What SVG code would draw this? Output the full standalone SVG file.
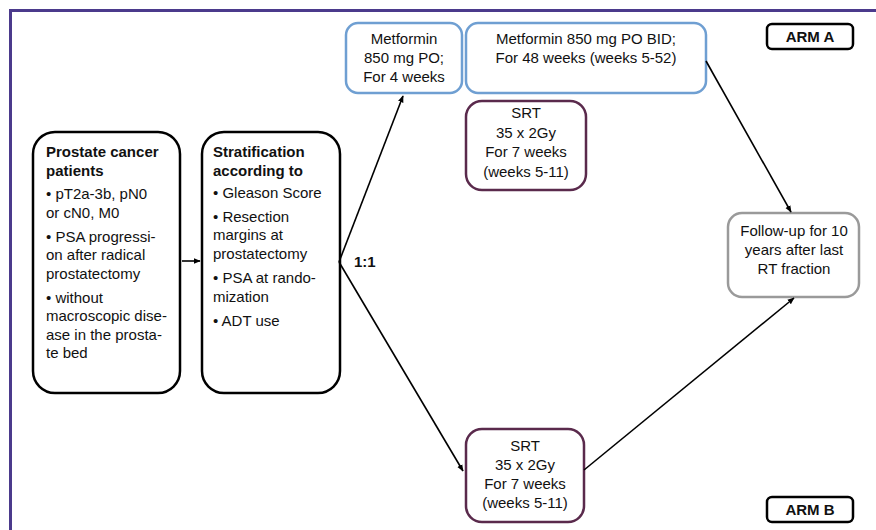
<svg xmlns="http://www.w3.org/2000/svg" width="876" height="530" viewBox="0 0 876 530">
<defs>
<marker id="ah" viewBox="0 0 10 10" refX="9" refY="5" markerWidth="7" markerHeight="7" markerUnits="userSpaceOnUse" orient="auto">
<path d="M0,1 L10,5 L0,9 z" fill="#000"/>
</marker>
<style>
text{font-family:"Liberation Sans",Arial,sans-serif;font-size:15px;fill:#111}
.b{font-weight:bold}
.c{text-anchor:middle}
.blk{fill:#fff;stroke:#000;stroke-width:2.5}
.blu{fill:#fff;stroke:#6f9fd2;stroke-width:2.5}
.pur{fill:#fff;stroke:#5a2a4c;stroke-width:2.5}
.gry{fill:#fff;stroke:#9a9a9a;stroke-width:2.5}
.con{stroke:#000;stroke-width:1.6;fill:none;marker-end:url(#ah)}
</style>
</defs>
<rect width="876" height="530" fill="#fff"/>
<path d="M10.5,530 V10.5 H876" fill="none" stroke="#4b3a8c" stroke-width="3"/>

<g id="patients">
<rect class="blk" x="33" y="132" width="147" height="261" rx="22"/>
<text class="b" x="46" y="157">Prostate cancer</text>
<text class="b" x="46" y="176">patients</text>
<text x="46" y="199">• pT2a-3b, pN0</text>
<text x="46" y="218">or cN0, M0</text>
<text x="46" y="242">• PSA progressi-</text>
<text x="46" y="260">on after radical</text>
<text x="46" y="279">prostatectomy</text>
<text x="46" y="303">• without</text>
<text x="46" y="321">macroscopic dise-</text>
<text x="46" y="340">ase in the prosta-</text>
<text x="46" y="358">te bed</text>
</g>

<g id="stratification">
<rect class="blk" x="202" y="132" width="138" height="261" rx="22"/>
<text class="b" x="213" y="157">Stratification</text>
<text class="b" x="213" y="176">according to</text>
<text x="213" y="198">• Gleason Score</text>
<text x="213" y="222">• Resection</text>
<text x="213" y="240">margins at</text>
<text x="213" y="259">prostatectomy</text>
<text x="213" y="283">• PSA at rando-</text>
<text x="213" y="302">mization</text>
<text x="213" y="326">• ADT use</text>
</g>

<g id="ratio">
<text class="b" x="354" y="267">1:1</text>
</g>

<g id="metformin4">
<rect class="blu" x="346" y="23" width="116" height="70" rx="12"/>
<text class="c" x="404" y="44">Metformin</text>
<text class="c" x="404" y="63">850 mg PO;</text>
<text class="c" x="404" y="82">For 4 weeks</text>
</g>

<g id="metformin48">
<rect class="blu" x="466" y="23" width="240" height="70" rx="12"/>
<text class="c" x="586" y="44">Metformin 850 mg PO BID;</text>
<text class="c" x="586" y="63">For 48 weeks (weeks 5-52)</text>
</g>

<g id="srtA">
<rect class="pur" x="466" y="101" width="120" height="89" rx="16"/>
<text class="c" x="526" y="118">SRT</text>
<text class="c" x="526" y="138">35 x 2Gy</text>
<text class="c" x="526" y="157">For 7 weeks</text>
<text class="c" x="526" y="177">(weeks 5-11)</text>
</g>

<g id="armA">
<rect class="blk" x="767" y="24" width="86" height="25" rx="5"/>
<text class="b c" x="810" y="42">ARM A</text>
</g>

<g id="followup">
<rect class="gry" x="728" y="213" width="131" height="84" rx="14"/>
<text class="c" x="794" y="236">Follow-up for 10</text>
<text class="c" x="794" y="255">years after last</text>
<text class="c" x="794" y="274">RT fraction</text>
</g>

<g id="srtB">
<rect class="pur" x="466" y="429" width="118" height="93" rx="16"/>
<text class="c" x="525" y="451">SRT</text>
<text class="c" x="525" y="470">35 x 2Gy</text>
<text class="c" x="525" y="489">For 7 weeks</text>
<text class="c" x="525" y="508">(weeks 5-11)</text>
</g>

<g id="armB">
<rect class="blk" x="767" y="497" width="86" height="25" rx="5"/>
<text class="b c" x="810" y="515">ARM B</text>
</g>

<g id="connectors">
<line class="con" x1="182" y1="261" x2="200" y2="261"/>
<line class="con" x1="339" y1="262" x2="403" y2="96"/>
<line class="con" x1="339" y1="262" x2="463" y2="471"/>
<line class="con" x1="706" y1="61" x2="791" y2="212"/>
<line class="con" x1="584" y1="470" x2="794" y2="298"/>
</g>
</svg>
